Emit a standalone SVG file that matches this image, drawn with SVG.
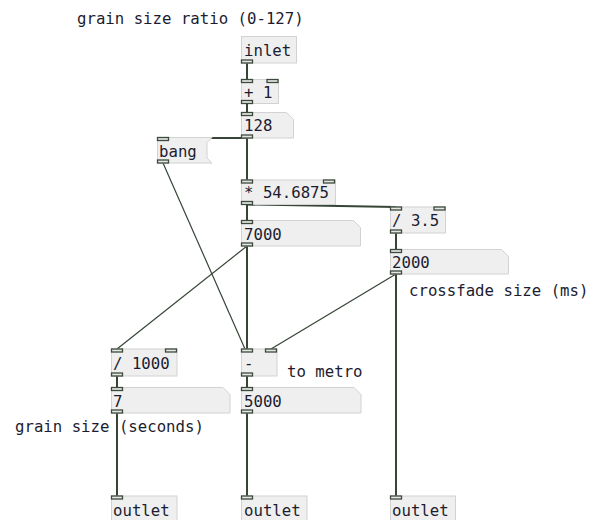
<svg xmlns="http://www.w3.org/2000/svg" width="589" height="520" viewBox="0 0 589 520">
<style>
.box{fill:#efefef;stroke:#d2d2d2;stroke-width:1}
.t{font-family:"DejaVu Sans Mono","Liberation Mono",monospace;font-size:15.7px;fill:#1c1c30}
.tab{fill:#e6e6e6;stroke:#3b4a3b;stroke-width:1.3}
.c{stroke:#364536;stroke-width:2;fill:none}
.d{stroke:#364536;stroke-width:1.2;fill:none}
</style>
<rect width="589" height="520" fill="#ffffff"/>
<g id="connectors">
<line class="c" x1="247" y1="63" x2="247" y2="79"/>
<line class="c" x1="247" y1="103" x2="247" y2="112"/>
<line class="c" x1="247" y1="138" x2="163" y2="138"/>
<line class="c" x1="247" y1="138" x2="247" y2="180"/>
<line class="c" x1="247" y1="204" x2="247" y2="220"/>
<line class="c" x1="247" y1="204.5" x2="396" y2="207"/>
<line class="c" x1="396" y1="233" x2="396" y2="249"/>
<line class="d" x1="163" y1="163" x2="245" y2="349"/>
<line class="d" x1="247" y1="246" x2="117" y2="349"/>
<line class="c" x1="247" y1="246" x2="247" y2="349"/>
<line class="d" x1="396" y1="274" x2="271" y2="349"/>
<line class="c" x1="396" y1="274" x2="396" y2="496"/>
<line class="c" x1="117" y1="376" x2="117" y2="387"/>
<line class="c" x1="247" y1="376" x2="247" y2="387"/>
<line class="c" x1="117" y1="413" x2="117" y2="496"/>
<line class="c" x1="247" y1="413" x2="247" y2="496"/>
</g>
<g id="comment-ratio"><text class="t" x="77" y="24">grain size ratio (0-127)</text></g>
<g id="inlet">
<rect class="box" x="241.5" y="36.5" width="55" height="26.5"/>
<text class="t" x="244" y="56">inlet</text>
<rect class="tab" x="241.5" y="60" width="11" height="3"/>
</g>
<g id="plus1">
<rect class="box" x="241.5" y="79.5" width="37" height="24"/>
<text class="t" x="244" y="98">+ 1</text>
<rect class="tab" x="241.5" y="79.5" width="11" height="3"/>
<rect class="tab" x="267" y="79.5" width="11" height="3"/>
<rect class="tab" x="241.5" y="100.5" width="11" height="3"/>
</g>
<g id="num128">
<path class="box" d="M241.5 112.5H286.5L293.5 119.5V138H241.5Z"/>
<text class="t" x="244" y="131">128</text>
<rect class="tab" x="241.5" y="112.5" width="11" height="3"/>
<rect class="tab" x="241.5" y="135" width="11" height="3"/>
</g>
<g id="bang">
<path class="box" d="M157.5 137.5H212L207 142.5V158L212 163H157.5Z"/>
<text class="t" x="159" y="157">bang</text>
<rect class="tab" x="157.5" y="137.5" width="11" height="3"/>
<rect class="tab" x="157.5" y="160" width="11" height="3"/>
</g>
<g id="mul">
<rect class="box" x="241.5" y="180" width="94" height="24.5"/>
<text class="t" x="244" y="198">* 54.6875</text>
<rect class="tab" x="241.5" y="180" width="11" height="3"/>
<rect class="tab" x="323.5" y="180" width="11" height="3"/>
<rect class="tab" x="241.5" y="201.5" width="11" height="3"/>
</g>
<g id="num7000">
<path class="box" d="M241.5 220.5H353.5L360.5 227.5V246H241.5Z"/>
<text class="t" x="244" y="240">7000</text>
<rect class="tab" x="241.5" y="220.5" width="11" height="3"/>
<rect class="tab" x="241.5" y="243" width="11" height="3"/>
</g>
<g id="div35">
<rect class="box" x="390.5" y="207" width="55" height="26"/>
<text class="t" x="392" y="226">/ 3.5</text>
<rect class="tab" x="390.5" y="207" width="11" height="3"/>
<rect class="tab" x="434" y="207" width="11" height="3"/>
<rect class="tab" x="390.5" y="230" width="11" height="3"/>
</g>
<g id="num2000">
<path class="box" d="M390.5 249.5H501.5L508.5 256.5V274H390.5Z"/>
<text class="t" x="392" y="268">2000</text>
<rect class="tab" x="390.5" y="249.5" width="11" height="3"/>
<rect class="tab" x="390.5" y="271" width="11" height="3"/>
</g>
<g id="comment-crossfade"><text class="t" x="409" y="296">crossfade size (ms)</text></g>
<g id="div1000">
<rect class="box" x="111.5" y="349" width="65.5" height="27"/>
<text class="t" x="113" y="369">/ 1000</text>
<rect class="tab" x="111.5" y="349" width="11" height="3"/>
<rect class="tab" x="165.5" y="349" width="11" height="3"/>
<rect class="tab" x="111.5" y="373" width="11" height="3"/>
</g>
<g id="minus">
<rect class="box" x="241.5" y="349" width="35.5" height="27"/>
<text class="t" x="244" y="369">-</text>
<rect class="tab" x="241.5" y="349" width="11" height="3"/>
<rect class="tab" x="265.5" y="349" width="11" height="3"/>
<rect class="tab" x="241.5" y="373" width="11" height="3"/>
</g>
<g id="comment-metro"><text class="t" x="287" y="377">to metro</text></g>
<g id="num7">
<path class="box" d="M111.5 387.5H223L230 394.5V413H111.5Z"/>
<text class="t" x="113" y="407">7</text>
<rect class="tab" x="111.5" y="387.5" width="11" height="3"/>
<rect class="tab" x="111.5" y="410" width="11" height="3"/>
</g>
<g id="num5000">
<path class="box" d="M241.5 387.5H354L361 394.5V413H241.5Z"/>
<text class="t" x="244" y="407">5000</text>
<rect class="tab" x="241.5" y="387.5" width="11" height="3"/>
<rect class="tab" x="241.5" y="410" width="11" height="3"/>
</g>
<g id="comment-grain"><text class="t" x="15" y="432">grain size (seconds)</text></g>
<g id="outlet1">
<rect class="box" x="111.5" y="496" width="65.5" height="30"/>
<text class="t" x="113" y="516">outlet</text>
<rect class="tab" x="111.5" y="496" width="11" height="3"/>
</g>
<g id="outlet2">
<rect class="box" x="241.5" y="496" width="65.5" height="30"/>
<text class="t" x="244" y="516">outlet</text>
<rect class="tab" x="241.5" y="496" width="11" height="3"/>
</g>
<g id="outlet3">
<rect class="box" x="390.5" y="496" width="65" height="30"/>
<text class="t" x="392" y="516">outlet</text>
<rect class="tab" x="390.5" y="496" width="11" height="3"/>
</g>
</svg>
